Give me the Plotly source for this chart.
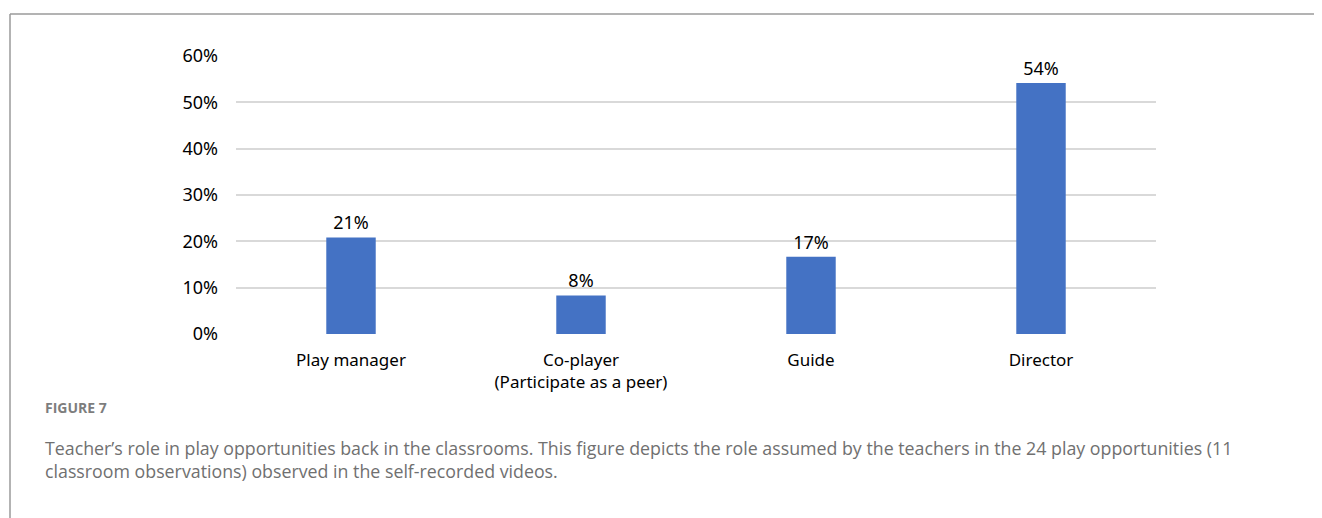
import plotly.graph_objects as go

categories = ["Play manager", "Co-player<br>(Participate as a peer)", "Guide", "Director"]
values = [20.83, 8.33, 16.67, 54.17]
labels = ["21%", "8%", "17%", "54%"]
y_ticks = [0, 10, 20, 30, 40, 50, 60]
y_tick_text = ["0%", "10%", "20%", "30%", "40%", "50%", "60%"]

# page body adds an 8px margin; work in screen coordinates and shift
OFF = 8
W, H = 1322 - OFF, 518 - OFF
L, T = 236 - OFF, 56 - OFF
PLOT_RIGHT, PLOT_BOTTOM = 1156 - OFF, 334 - OFF
R, B = W - PLOT_RIGHT, H - PLOT_BOTTOM
pw, ph = W - L - R, H - T - B

def px_x(x):
    return (x - OFF - L) / pw

def px_y(y):
    return (H - B - (y - OFF)) / ph

FONT = "Noto Sans"

fig = go.Figure()
fig.add_trace(go.Bar(
    x=categories, y=values, text=labels, textposition="outside",
    textfont=dict(family=FONT, size=18, color="#000000"),
    marker=dict(color="#4472C4", line=dict(width=0)),
    width=0.215, cliponaxis=False, hoverinfo="skip",
))

fig.update_layout(
    width=W, height=H, margin=dict(l=L, r=R, t=T, b=B),
    paper_bgcolor="white", plot_bgcolor="white", showlegend=False,
    bargap=0.785,
    xaxis=dict(showline=False, showgrid=False, zeroline=False, ticks="",
               tickfont=dict(family=FONT, size=17, color="#000000"),
               ticklabelstandoff=14),
    yaxis=dict(range=[0, 60], tickvals=y_ticks, ticktext=y_tick_text,
               showgrid=True, gridcolor="#d9d9d9", gridwidth=1.5,
               zeroline=False, showline=False, ticks="",
               tickfont=dict(family=FONT, size=18, color="#000000"),
               ticklabelstandoff=17),
)

# frame lines
fig.add_shape(type="line", xref="paper", yref="paper",
              x0=px_x(10), x1=px_x(1340), y0=px_y(14), y1=px_y(14),
              line=dict(color="#9a9a9a", width=1.5))
fig.add_shape(type="line", xref="paper", yref="paper",
              x0=px_x(10), x1=px_x(10), y0=px_y(14), y1=px_y(540),
              line=dict(color="#9a9a9a", width=1.5))

fig.add_annotation(text="<b>FIGURE 7</b>", xref="paper", yref="paper",
                   x=px_x(43), y=px_y(407), xanchor="left", yanchor="middle",
                   showarrow=False, font=dict(family="Open Sans", size=14, color="#7d7d7d"))
fig.add_annotation(text="Teacher\u2019s role in play opportunities back in the classrooms. This figure depicts the role assumed by the teachers in the 24 play opportunities (11",
                   xref="paper", yref="paper", x=px_x(43), y=px_y(448),
                   xanchor="left", yanchor="middle", showarrow=False,
                   font=dict(family="Open Sans", size=17.8, color="#707070"))
fig.add_annotation(text="classroom observations) observed in the self-recorded videos.",
                   xref="paper", yref="paper", x=px_x(43), y=px_y(471),
                   xanchor="left", yanchor="middle", showarrow=False,
                   font=dict(family="Open Sans", size=17.8, color="#707070"))

fig.write_html("out.html")
